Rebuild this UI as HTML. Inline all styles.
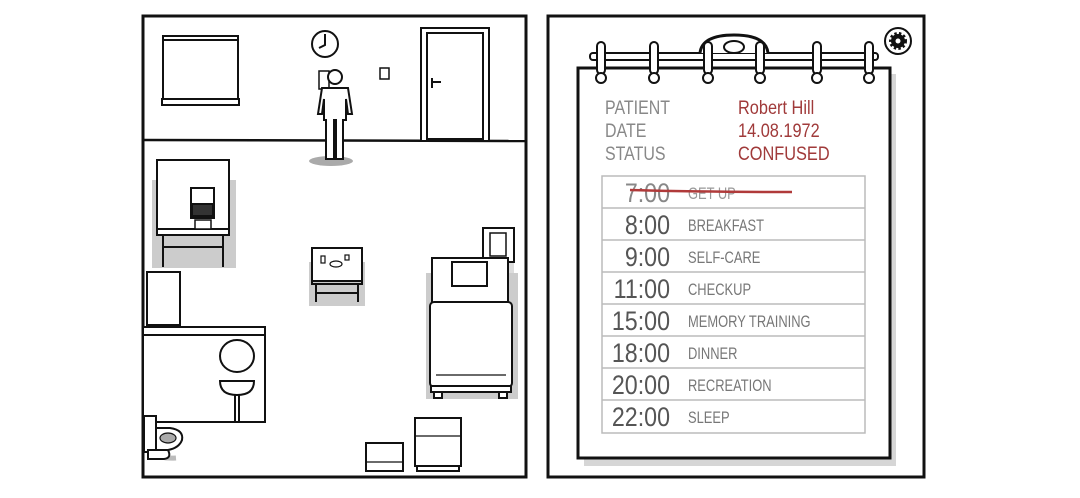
<!DOCTYPE html>
<html><head><meta charset="utf-8"><style>
html,body{margin:0;padding:0;background:#fff;width:1080px;height:498px;overflow:hidden}
svg{display:block}
text{font-family:"Liberation Sans",sans-serif}
</style></head><body>
<svg width="1080" height="498" viewBox="0 0 1080 498" xmlns="http://www.w3.org/2000/svg">
<g fill="none" stroke="#111" stroke-width="2">
<!-- LEFT PANEL -->
<rect x="143" y="16" width="383" height="461" fill="#fff" stroke-width="3"/>
<line x1="143" y1="140" x2="526" y2="141" stroke-width="2.5"/>
<rect x="163" y="36" width="75" height="65" fill="#fff"/>
<line x1="163" y1="40" x2="238" y2="40"/>
<rect x="162" y="99" width="77" height="6" fill="#fff"/>
<circle cx="325" cy="44" r="13" fill="#fff"/>
<polyline points="325,34 325,45 319,48"/>
<rect x="380" y="68" width="9" height="11" fill="#fff" stroke-width="1.5"/>
<rect x="421" y="28" width="68" height="113" fill="#fff"/>
<rect x="427" y="33" width="56" height="106" fill="#fff"/>
<path d="M432 78 v10 M432 82 h9" stroke-width="2"/>
<ellipse cx="331" cy="161" rx="22" ry="5" fill="#aaa" stroke="none"/>
<rect x="319" y="71" width="10" height="18" fill="#fff" stroke-width="1.5"/>
<circle cx="335" cy="77" r="7" fill="#fff"/>
<path d="M322 88 h26 l4 26 h-4 l-2 -15 v21 h-22 v-21 l-2 15 h-4z" fill="#fff"/>
<path d="M326 119 v40 h8 v-40 M336 119 v40 h7 v-40" fill="#fff"/>
<rect x="152" y="180" width="84" height="88" fill="#ccc" stroke="none"/>
<rect x="157" y="160" width="72" height="73" fill="#fff"/>
<rect x="157" y="229" width="72" height="6" fill="#fff"/>
<path d="M163 235 v32 M223 235 v32 M163 247 h60"/>
<rect x="191" y="188" width="23" height="30" fill="#fff"/>
<rect x="192" y="204" width="21" height="12" fill="#333"/>
<rect x="195" y="220" width="16" height="9" fill="#fff" stroke-width="1.5"/>
<rect x="309" y="262" width="56" height="44" fill="#ccc" stroke="none"/>
<rect x="312" y="248" width="50" height="33" fill="#fff"/>
<path d="M312 281 h50 v3 h-50z M316 284 v18 M358 284 v18 M316 293 h42"/>
<rect x="321" y="256" width="4" height="7" stroke-width="1.2"/>
<ellipse cx="336" cy="264" rx="6" ry="3" stroke-width="1.2"/>
<rect x="345" y="255" width="4" height="5" stroke-width="1.2"/>
<rect x="483" y="229" width="31" height="45" fill="#ddd" stroke="none"/>
<rect x="483" y="228" width="31" height="34" fill="#fff"/>
<rect x="490" y="233" width="16" height="23" fill="#fff" stroke-width="1.5"/>
<rect x="426" y="273" width="92" height="126" fill="#ccc" stroke="none"/>
<rect x="432" y="258" width="76" height="50" fill="#fff"/>
<rect x="452" y="262" width="35" height="24" fill="#fff"/>
<rect x="430" y="302" width="82" height="85" rx="4" fill="#fff"/>
<line x1="436" y1="375" x2="506" y2="375" stroke-width="1.2"/>
<rect x="431" y="386" width="80" height="6" fill="#fff"/>
<rect x="434" y="392" width="8" height="6" fill="#fff"/>
<rect x="499" y="392" width="8" height="6" fill="#fff"/>
<rect x="147" y="272" width="33" height="53" fill="#fff"/>
<rect x="143" y="327" width="122" height="8" fill="#fff"/>
<rect x="143" y="335" width="122" height="87" fill="#fff"/>
<ellipse cx="237" cy="356" rx="17" ry="16" fill="#fff"/>
<path d="M220 381 h34 q0 14 -17 14 q-17 0 -17 -14z" fill="#fff"/>
<path d="M235 395 v28 M239 395 v28"/>
<path d="M146 440 q4 20 30 18" stroke="#bbb" stroke-width="5"/>
<rect x="144" y="416" width="12" height="36" fill="#fff"/>
<path d="M156 428 h14 q14 2 12 12 q-3 8 -14 10 h-12z" fill="#fff"/>
<ellipse cx="168" cy="438" rx="8" ry="5" fill="#aaa" stroke-width="1.2"/>
<path d="M148 450 h20 q4 8 -4 9 h-16z" fill="#fff"/>
<rect x="366" y="443" width="37" height="28" fill="#fff"/>
<line x1="366" y1="462" x2="403" y2="462" stroke-width="1.2"/>
<rect x="415" y="418" width="46" height="48" fill="#fff"/>
<line x1="415" y1="436" x2="461" y2="436" stroke-width="1.2"/>
<rect x="417" y="466" width="42" height="5" fill="#fff"/>

<!-- RIGHT PANEL -->
<rect x="548" y="16" width="376" height="461" fill="#fff" stroke-width="3"/>
<circle cx="898" cy="41" r="13" fill="#fff"/>
<circle cx="898" cy="41" r="7" fill="#111" stroke-width="4" stroke-dasharray="2.2 2"/>
<circle cx="898" cy="41" r="2.5" fill="#fff" stroke="none"/>
<rect x="584" y="74" width="312" height="392" fill="#d6d6d6" stroke="none"/>
<rect x="578" y="68" width="312" height="390" fill="#fff" stroke-width="3"/>
<rect x="590" y="53" width="288" height="7" rx="3" fill="#fff"/>
<path d="M700 53 q2 -18 34 -18 q32 0 34 18" stroke-width="3" fill="#fff"/>
<ellipse cx="734" cy="47" rx="10" ry="6"/>
<g fill="#fff">
<rect x="597" y="42" width="8" height="32" rx="4"/><circle cx="601" cy="78" r="5"/>
<rect x="650" y="42" width="8" height="32" rx="4"/><circle cx="654" cy="78" r="5"/>
<rect x="704" y="42" width="8" height="32" rx="4"/><circle cx="708" cy="78" r="5"/>
<rect x="756" y="42" width="8" height="32" rx="4"/><circle cx="760" cy="78" r="5"/>
<rect x="813" y="42" width="8" height="32" rx="4"/><circle cx="817" cy="78" r="5"/>
<rect x="865" y="42" width="8" height="32" rx="4"/><circle cx="869" cy="78" r="5"/>
</g>
<g stroke="#bbb" stroke-width="1.5">
<rect x="602" y="176" width="263" height="257"/>
<line x1="602" y1="208" x2="865" y2="208"/><line x1="602" y1="240" x2="865" y2="240"/>
<line x1="602" y1="272" x2="865" y2="272"/><line x1="602" y1="304" x2="865" y2="304"/>
<line x1="602" y1="336" x2="865" y2="336"/><line x1="602" y1="368" x2="865" y2="368"/>
<line x1="602" y1="400" x2="865" y2="400"/>
</g>
</g>
<g fill="#888" font-size="19" transform="translate(605 0) scale(0.84 1) translate(-605 0)">
<text x="605" y="114">PATIENT</text>
<text x="605" y="137">DATE</text>
<text x="605" y="160">STATUS</text>
</g>
<g fill="#a03a3a" font-size="19" transform="translate(738 0) scale(0.86 1) translate(-738 0)">
<text x="738" y="114">Robert Hill</text>
<text x="738" y="137">14.08.1972</text>
<text x="738" y="160">CONFUSED</text>
</g>
<g fill="#555" font-size="27" text-anchor="end" transform="translate(670 0) scale(0.86 1) translate(-670 0)">
<text x="670" y="202" fill="#888">7:00</text>
<text x="670" y="234">8:00</text>
<text x="670" y="266">9:00</text>
<text x="670" y="298">11:00</text>
<text x="670" y="330">15:00</text>
<text x="670" y="362">18:00</text>
<text x="670" y="394">20:00</text>
<text x="670" y="426">22:00</text>
</g>
<g fill="#777" font-size="17" transform="translate(688 0) scale(0.76 1) translate(-688 0)">
<text x="688" y="199" fill="#999">GET UP</text>
<text x="688" y="231">BREAKFAST</text>
<text x="688" y="263">SELF-CARE</text>
<text x="688" y="295">CHECKUP</text>
<text x="688" y="327">MEMORY TRAINING</text>
<text x="688" y="359">DINNER</text>
<text x="688" y="391">RECREATION</text>
<text x="688" y="423">SLEEP</text>
</g>
<path d="M630 190 Q700 192 792 192" stroke="#b03a3a" stroke-width="2.5" fill="none"/>
</svg>
</body></html>
